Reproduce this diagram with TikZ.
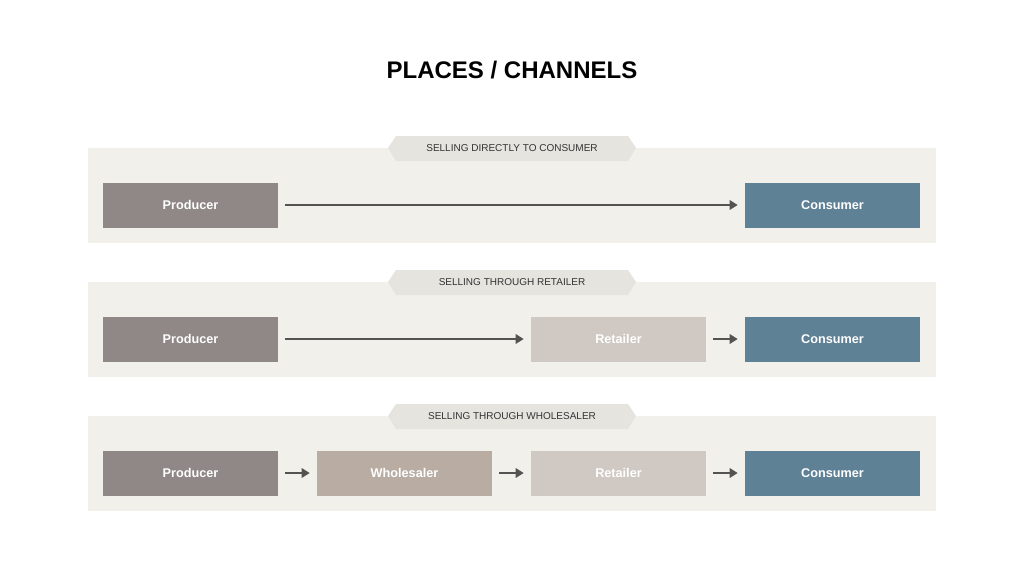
\documentclass[tikz,border=0pt]{standalone}
\usepackage{fontspec}
\setmainfont{Liberation Sans}
\usetikzlibrary{arrows.meta}
\definecolor{panel}{HTML}{F2F0EB}
\definecolor{tabc}{HTML}{E6E4DF}
\definecolor{prod}{HTML}{8F8886}
\definecolor{cons}{HTML}{5F8196}
\definecolor{ret}{HTML}{CFC8C3}
\definecolor{whole}{HTML}{B8ACA3}
\definecolor{arr}{HTML}{555351}
\tikzset{
  box/.style={minimum width=131.25pt,minimum height=33.75pt,inner sep=0pt,text=white,font=\bfseries\fontsize{9.5}{11}\selectfont},
  conn/.style={draw=arr,line width=2.2pt,-{Triangle[length=6pt,width=7pt]},shorten <=5.25pt,shorten >=5.25pt},
  tabtext/.style={font=\fontsize{7.5}{9}\selectfont,text=black!80}
}
\begin{document}
\begin{tikzpicture}[x=0.75pt,y=-0.75pt]
\useasboundingbox[fill=white] (0,0) rectangle (1024,576);
\node[font=\bfseries\fontsize{18}{22}\selectfont] (title) at (512,70) {PLACES / CHANNELS};
\foreach \y/\t/\n in {148/SELLING DIRECTLY TO CONSUMER/a,282/SELLING THROUGH RETAILER/b,416/SELLING THROUGH WHOLESALER/c}{
  \fill[panel] (88,\y) rectangle (936,\y+95);
  \fill[tabc] (396,\y-12) -- (628,\y-12) -- (636,\y) -- (628,\y+13) -- (396,\y+13) -- (388,\y) -- cycle;
  \node[tabtext] (tab\n) at (512,\y) {\t};
}
% row 1
\node[box,fill=prod] (p1) at (190.5,205) {Producer};
\node[box,fill=cons] (c1) at (832.5,205) {Consumer};
\draw[conn] (p1) -- (c1);
% row 2
\node[box,fill=prod] (p2) at (190.5,339) {Producer};
\node[box,fill=ret] (r2) at (618.5,339) {Retailer};
\node[box,fill=cons] (c2) at (832.5,339) {Consumer};
\draw[conn] (p2) -- (r2);
\draw[conn] (r2) -- (c2);
% row 3
\node[box,fill=prod] (p3) at (190.5,473) {Producer};
\node[box,fill=whole] (w3) at (404.5,473) {Wholesaler};
\node[box,fill=ret] (r3) at (618.5,473) {Retailer};
\node[box,fill=cons] (c3) at (832.5,473) {Consumer};
\draw[conn] (p3) -- (w3);
\draw[conn] (w3) -- (r3);
\draw[conn] (r3) -- (c3);
\end{tikzpicture}
\end{document}
